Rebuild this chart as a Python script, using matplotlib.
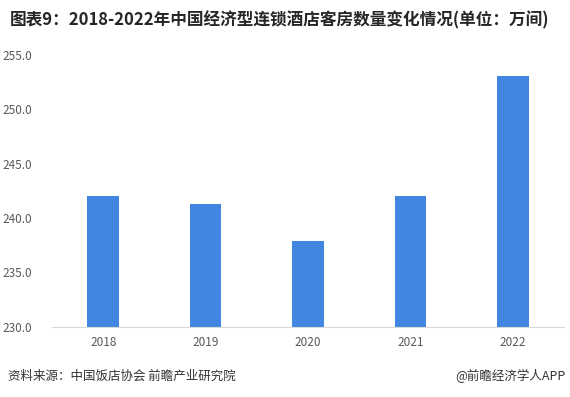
import matplotlib.pyplot as plt

plt.rcParams['font.family'] = ['Noto Sans CJK SC', 'DejaVu Sans']

years = ['2018', '2019', '2020', '2021', '2022']
rooms = [242.0, 241.3, 237.9, 242.0, 253.1]  # 万间
y_ticks = [230, 235, 240, 245, 250, 255]

fig = plt.figure(figsize=(5.7, 3.97), dpi=100)
ax = fig.add_axes([52 / 570, 1 - 326.7 / 397, 512 / 570, (326.7 - 55) / 397])

ax.bar(range(len(years)), rooms, width=0.31, color='#4186e0', zorder=2)

ax.set_xlim(-0.5, len(years) - 0.5)
ax.set_ylim(230, 255)
ax.set_xticks(range(len(years)))
ax.set_xticklabels(years)
ax.set_yticks(y_ticks)
ax.set_yticklabels([f'{v:.1f}' for v in y_ticks])
ax.tick_params(axis='both', length=0, labelsize=8.5, colors='#595959')
ax.tick_params(axis='x', pad=7)
ax.tick_params(axis='y', pad=14)

for side in ['top', 'right', 'left']:
    ax.spines[side].set_visible(False)
ax.spines['bottom'].set_color('#d9d9d9')

fig.text(10 / 570, 1 - 20 / 397, '图表9：2018-2022年中国经济型连锁酒店客房数量变化情况(单位：万间)',
         fontsize=12, fontweight='bold', color='#262626', va='center', ha='left')
fig.text(8 / 570, 1 - 376 / 397, '资料来源：中国饭店协会 前瞻产业研究院',
         fontsize=9, color='#333333', va='center', ha='left')
fig.text(566 / 570, 1 - 376 / 397, '@前瞻经济学人APP',
         fontsize=9, color='#333333', va='center', ha='right')

fig.savefig('out.png', dpi=100)
